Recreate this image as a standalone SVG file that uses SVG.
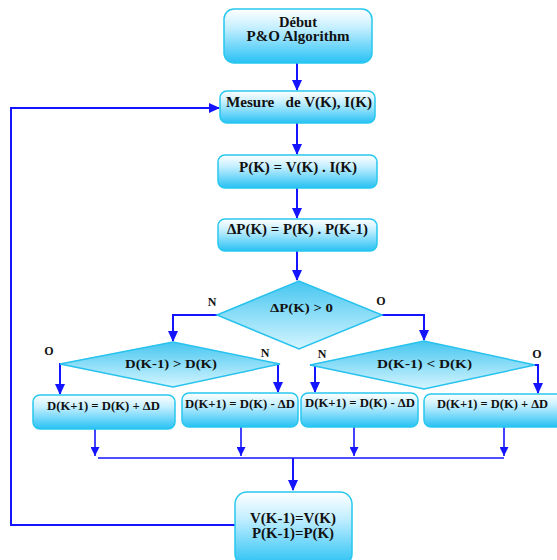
<svg xmlns="http://www.w3.org/2000/svg" width="557" height="560" viewBox="0 0 557 560">
<defs>
<linearGradient id="gBox" x1="0" y1="0" x2="0" y2="1">
<stop offset="0" stop-color="#ffffff"/>
<stop offset="0.35" stop-color="#c4efff"/>
<stop offset="1" stop-color="#27c1f4"/>
</linearGradient>
<linearGradient id="gDia" x1="0" y1="0" x2="0" y2="1">
<stop offset="0" stop-color="#46c6f0"/>
<stop offset="1" stop-color="#d4f5ff"/>
</linearGradient>
<marker id="ah" markerWidth="11" markerHeight="10" refX="10" refY="5" orient="auto" markerUnits="userSpaceOnUse">
<path d="M0,0 L11,5 L0,10 Z" fill="#1414ff"/>
</marker>
<marker id="ahs" markerWidth="9" markerHeight="9" refX="9" refY="4.5" orient="auto" markerUnits="userSpaceOnUse">
<path d="M0,0 L9,4.5 L0,9 Z" fill="#1414ff"/>
</marker>
</defs>
<style>
.box{fill:url(#gBox);stroke:#27c8ee;stroke-width:1.5}
.dia{fill:url(#gDia);stroke:#27c2ee;stroke-width:1.5}
.t{font-family:"Liberation Serif","Times New Roman",serif;font-weight:bold;fill:#111;text-anchor:middle}
.big{font-size:14px}
.sm{font-size:12px}
.lbl{font-family:"Liberation Serif","Times New Roman",serif;font-weight:bold;font-size:12px;fill:#111;text-anchor:middle}
.c{fill:none;stroke:#1414ff;stroke-width:2}
.cs{fill:none;stroke:#1414ff;stroke-width:1.6}
</style>

<g id="connectors">
<path class="c" d="M297,63 V90" marker-end="url(#ah)"/>
<path class="c" d="M297,123 V154" marker-end="url(#ah)"/>
<path class="c" d="M297,188 V218" marker-end="url(#ah)"/>
<path class="c" d="M297,251 V280" marker-end="url(#ah)"/>
<path class="c" d="M217,315 H173 V341" marker-end="url(#ah)"/>
<path class="c" d="M382,315 H424 V340" marker-end="url(#ah)"/>
<path class="c" d="M70,364 H60 V394" marker-end="url(#ah)"/>
<path class="c" d="M272,364 H278 V392" marker-end="url(#ah)"/>
<path class="c" d="M310,365 H315 V392" marker-end="url(#ah)"/>
<path class="c" d="M530,365 H538 V393" marker-end="url(#ah)"/>
<path class="cs" d="M95,429 V456" marker-end="url(#ahs)"/>
<path class="cs" d="M241,427 V456" marker-end="url(#ahs)"/>
<path class="cs" d="M354,427 V456" marker-end="url(#ahs)"/>
<path class="cs" d="M504,427 V456" marker-end="url(#ahs)"/>
<path class="cs" d="M98,458 H504"/>
<path class="c" d="M293,458 V490" marker-end="url(#ah)"/>
<path class="c" d="M235,525 H11 V108 H219" marker-end="url(#ah)"/>
</g>

<g id="n-debut">
<rect class="box" x="224" y="9" width="148" height="54" rx="10"/>
<text class="t big" x="298" y="27" textLength="38" lengthAdjust="spacingAndGlyphs">Début</text>
<text class="t big" x="298" y="41" textLength="103" lengthAdjust="spacingAndGlyphs">P&amp;O Algorithm</text>
</g>
<g id="n-mesure">
<rect class="box" x="220" y="91" width="155" height="32" rx="7"/>
<text class="t big" x="299" y="107" textLength="146" lengthAdjust="spacingAndGlyphs" xml:space="preserve">Mesure   de V(K), I(K)</text>
</g>
<g id="n-pk">
<rect class="box" x="218" y="155" width="159" height="33" rx="7"/>
<text class="t big" x="298" y="172" textLength="118" lengthAdjust="spacingAndGlyphs">P(K) = V(K) . I(K)</text>
</g>
<g id="n-dpk">
<rect class="box" x="218" y="219" width="159" height="32" rx="7"/>
<text class="t big" x="297.5" y="234" textLength="141" lengthAdjust="spacingAndGlyphs">ΔP(K) = P(K) . P(K-1)</text>
</g>
<g id="n-d1">
<polygon class="dia" points="217,315 299,281 382,315 299,349"/>
<text class="t sm" x="301.5" y="312" textLength="63" lengthAdjust="spacingAndGlyphs">ΔP(K) &gt; 0</text>
<text class="lbl" x="212" y="306">N</text>
<text class="lbl" x="381" y="305">O</text>
</g>
<g id="n-d2">
<polygon class="dia" points="60,364 173,342 280,364 173,387"/>
<text class="t sm" x="171" y="368" textLength="92" lengthAdjust="spacingAndGlyphs">D(K-1) &gt; D(K)</text>
<text class="lbl" x="49" y="355">O</text>
<text class="lbl" x="265" y="357">N</text>
</g>
<g id="n-d3">
<polygon class="dia" points="310,365 424,341 535,365 424,389"/>
<text class="t sm" x="424.5" y="368" textLength="95" lengthAdjust="spacingAndGlyphs">D(K-1) &lt; D(K)</text>
<text class="lbl" x="322" y="358">N</text>
<text class="lbl" x="537" y="358">O</text>
</g>
<g id="n-b5">
<rect class="box" x="33" y="395" width="142" height="34" rx="7"/>
<text class="t sm" x="103.5" y="410" textLength="113" lengthAdjust="spacingAndGlyphs">D(K+1) = D(K) + ΔD</text>
</g>
<g id="n-b6">
<rect class="box" x="182" y="393" width="116" height="34" rx="7"/>
<text class="t sm" x="240" y="408" textLength="110" lengthAdjust="spacingAndGlyphs">D(K+1) = D(K) - ΔD</text>
</g>
<g id="n-b7">
<rect class="box" x="301" y="393" width="117" height="34" rx="7"/>
<text class="t sm" x="360" y="407" textLength="110" lengthAdjust="spacingAndGlyphs">D(K+1) = D(K) - ΔD</text>
</g>
<g id="n-b8">
<rect class="box" x="424" y="394" width="140" height="33" rx="7"/>
<text class="t sm" x="492.5" y="408" textLength="111" lengthAdjust="spacingAndGlyphs">D(K+1) = D(K) + ΔD</text>
</g>
<g id="n-final">
<rect class="box" x="235" y="492" width="117" height="74" rx="12"/>
<text class="t big" x="293" y="523" textLength="86" lengthAdjust="spacingAndGlyphs">V(K-1)=V(K)</text>
<text class="t big" x="293" y="538" textLength="82" lengthAdjust="spacingAndGlyphs">P(K-1)=P(K)</text>
</g>
</svg>
